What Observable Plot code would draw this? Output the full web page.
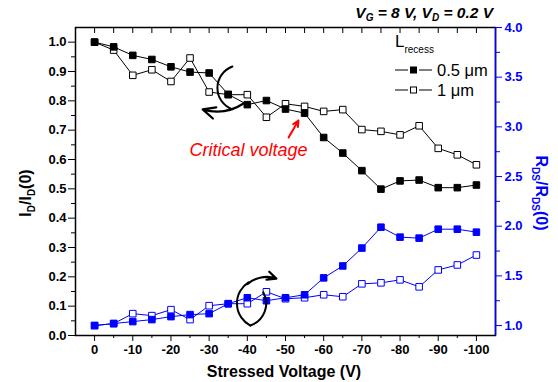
<!DOCTYPE html>
<html><head><meta charset="utf-8">
<script src="https://cdn.jsdelivr.net/npm/d3@7"></script>
<script src="https://cdn.jsdelivr.net/npm/@observablehq/plot@0.6"></script>
<style>
body{margin:0;background:#fff;}
#chart{width:558px;height:382px;}
</style>
</head><body><div id="chart"></div>
<script>
// ---- data ----
const voltage = [0,-5,-10,-15,-20,-25,-30,-35,-40,-45,-50,-55,-60,-65,-70,-75,-80,-85,-90,-95,-100];
const id05  = [1.00,0.984,0.955,0.941,0.916,0.898,0.895,0.822,0.787,0.801,0.772,0.758,0.675,0.622,0.562,0.499,0.527,0.530,0.504,0.504,0.513];
const id1   = [1.00,0.973,0.887,0.906,0.866,0.946,0.830,0.821,0.821,0.744,0.790,0.781,0.764,0.770,0.702,0.696,0.684,0.715,0.638,0.616,0.582];
const rds05 = [1.00,1.02,1.04,1.06,1.09,1.11,1.12,1.22,1.28,1.25,1.28,1.31,1.48,1.60,1.78,1.99,1.89,1.88,1.97,1.97,1.94];
const rds1  = [1.00,1.02,1.12,1.10,1.16,1.06,1.20,1.22,1.22,1.34,1.27,1.28,1.31,1.29,1.42,1.43,1.46,1.39,1.56,1.61,1.71];

const xDomain = [5,-105];
const xMajor = [0,-10,-20,-30,-40,-50,-60,-70,-80,-90,-100];
const xMinor = [-5,-15,-25,-35,-45,-55,-65,-75,-85,-95];
const yLeftDomain = [0,1.05];
const yLeftMajor = [0,0.1,0.2,0.3,0.4,0.5,0.6,0.7,0.8,0.9,1.0];
const yLeftMinor = [0.05,0.15,0.25,0.35,0.45,0.55,0.65,0.75,0.85,0.95];
const yRightDomain = [0.9,4.0];
const yRightMajor = [1.0,1.5,2.0,2.5,3.0,3.5,4.0];
const yRightMinor = [1.25,1.75,2.25,2.75,3.25,3.75];

const seriesLabels = ["0.5 \u03bcm","1 \u03bcm"];

// annotations (data coordinates: stressed voltage, left-axis ratio)
const blackArc   = [{x1:-36.1,y1:0.917,x2:-36.1,y2:0.771}];
const blackArrow = [{x1:-39.0,y1:0.791,x2:-28.3,y2:0.771}];
const blueArc1   = [{x1:-40.3,y1:0.181,x2:-40.8,y2:0.034}];
const blueArc2   = [{x1:-40.8,y1:0.034,x2:-44.2,y2:0.147}];
const blueArrow  = [{x1:-40.0,y1:0.175,x2:-47.6,y2:0.194}];
const redArrow   = [{x1:-50.8,y1:0.675,x2:-53.4,y2:0.733}];
const critLabel  = [{x:-40.3,y:0.631,text:"Critical voltage"}];

const BLUE = "#0000ff";
const FONT = "'Liberation Sans', Arial, sans-serif";

const toLeft = r => (r - yRightDomain[0])/(yRightDomain[1]-yRightDomain[0])*(yLeftDomain[1]-yLeftDomain[0]) + yLeftDomain[0];
const toRight = v => (v - yLeftDomain[0])/(yLeftDomain[1]-yLeftDomain[0])*(yRightDomain[1]-yRightDomain[0]) + yRightDomain[0];

const idData = voltage.flatMap((v,i)=>[
  {x:v, y:id05[i], s:seriesLabels[0]},
  {x:v, y:id1[i],  s:seriesLabels[1]}
]);
const rdsData = voltage.flatMap((v,i)=>[
  {x:v, y:toLeft(rds05[i]), s:seriesLabels[0]},
  {x:v, y:toLeft(rds1[i]),  s:seriesLabels[1]}
]);

const chart = Plot.plot({
  width:558, height:382,
  marginLeft:75, marginRight:63, marginTop:27, marginBottom:47,
  style:{fontFamily:FONT, fontSize:"13px", background:"#fff"},
  x:{domain:xDomain},
  y:{domain:yLeftDomain},
  marks:[
    Plot.axisX({ticks:xMajor, tickSize:6, tickPadding:3, tickFormat:d=>String(d), fontWeight:"bold", fontSize:13, label:null}),
    Plot.axisX({ticks:xMinor, tickSize:3, tickFormat:()=>"", label:null}),
    Plot.axisX({anchor:"top", ticks:[...xMajor,...xMinor], tickSize:-5, tickFormat:()=>"", label:null}),
    Plot.axisY({ticks:yLeftMajor, tickSize:7, tickPadding:2, tickFormat:d3.format(".1f"), fontWeight:"bold", fontSize:13, label:null}),
    Plot.axisY({ticks:yLeftMinor, tickSize:4, tickFormat:()=>"", label:null}),
    Plot.axisY({anchor:"right", ticks:yRightMajor.map(toLeft), tickSize:6, tickPadding:3,
      tickFormat:d=>toRight(d).toFixed(1), fontWeight:"bold", fontSize:13, color:BLUE, stroke:BLUE, fill:BLUE, label:null}),
    Plot.axisY({anchor:"right", ticks:yRightMinor.map(toLeft), tickSize:4, tickFormat:()=>"", color:BLUE, stroke:BLUE, label:null}),
    Plot.frame({stroke:"black", strokeWidth:1.5}),
    Plot.ruleX([xDomain[1]], {stroke:BLUE, strokeWidth:1.5}),
    Plot.line(idData, {x:"x", y:"y", z:"s", stroke:"black", strokeWidth:1}),
    Plot.line(rdsData, {x:"x", y:"y", z:"s", stroke:BLUE, strokeWidth:1}),
    Plot.dot(idData.filter(d=>d.s===seriesLabels[1]), {x:"x", y:"y", symbol:"square", r:3.7, fill:"white", stroke:"black", strokeWidth:1}),
    Plot.dot(idData.filter(d=>d.s===seriesLabels[0]), {x:"x", y:"y", symbol:"square", r:3.7, fill:"black", stroke:"black", strokeWidth:1}),
    Plot.dot(rdsData.filter(d=>d.s===seriesLabels[1]), {x:"x", y:"y", symbol:"square", r:3.7, fill:"white", stroke:BLUE, strokeWidth:1}),
    Plot.dot(rdsData.filter(d=>d.s===seriesLabels[0]), {x:"x", y:"y", symbol:"square", r:3.7, fill:BLUE, stroke:BLUE, strokeWidth:1}),
    Plot.arrow(blackArc, {x1:"x1",y1:"y1",x2:"x2",y2:"y2", bend:-70, headLength:0, stroke:"black", strokeWidth:2}),
    Plot.arrow(blackArrow, {x1:"x1",y1:"y1",x2:"x2",y2:"y2", bend:25, headLength:10, headAngle:50, stroke:"black", strokeWidth:2.2}),
    Plot.arrow(blueArc1, {x1:"x1",y1:"y1",x2:"x2",y2:"y2", bend:-60, headLength:0, stroke:"black", strokeWidth:2}),
    Plot.arrow(blueArc2, {x1:"x1",y1:"y1",x2:"x2",y2:"y2", bend:-50, headLength:0, stroke:"black", strokeWidth:2}),
    Plot.arrow(blueArrow, {x1:"x1",y1:"y1",x2:"x2",y2:"y2", bend:30, headLength:10, headAngle:50, stroke:"black", strokeWidth:2.2}),
    Plot.arrow(redArrow, {x1:"x1",y1:"y1",x2:"x2",y2:"y2", headLength:8, headAngle:50, stroke:"red", strokeWidth:2}),
    Plot.text(critLabel, {x:"x", y:"y", text:"text", fill:"red", fontSize:18, fontStyle:"italic", textAnchor:"middle"})
  ]
});
document.getElementById("chart").appendChild(chart);

// ---- titles & legend with subscripts ----
const svg = d3.select(chart);
function addParts(t, parts, size, subSize){
  parts.forEach(([s,isSub,shift])=>{
    t.append("tspan").attr("font-size", isSub?subSize:size).attr("dy", shift||0).text(s);
  });
}
const topNote = svg.append("text").attr("x",493).attr("y",18).attr("text-anchor","end")
  .attr("font-family",FONT).attr("font-weight","bold").attr("font-style","italic").attr("fill","black");
addParts(topNote, [["V",0],["G",1,3],[" = 8 V, V",0,-3],["D",1,3],[" = 0.2 V",0,-3]], 15.5, 10);

const leftTitle = svg.append("text").attr("transform","translate(31,193) rotate(-90)").attr("text-anchor","middle")
  .attr("font-family",FONT).attr("font-weight","bold").attr("fill","black");
addParts(leftTitle, [["I",0],["D",1,4],["/I",0,-4],["D",1,4],["(0)",0,-4]], 16, 10);

const rightTitle = svg.append("text").attr("transform","translate(536,193) rotate(90)").attr("text-anchor","middle")
  .attr("font-family",FONT).attr("font-weight","bold").attr("fill",BLUE);
addParts(rightTitle, [["R",0],["DS",1,4],["/R",0,-4],["DS",1,4],["(0)",0,-4]], 16, 10);

svg.append("text").attr("x",284).attr("y",377).attr("text-anchor","middle")
  .attr("font-family",FONT).attr("font-weight","bold").attr("font-size",16).attr("fill","black").text("Stressed Voltage (V)");

const lg = svg.append("g").attr("font-family",FONT).attr("text-anchor","start");
const lgt = lg.append("text").attr("x",395).attr("y",47).attr("fill","black").attr("text-anchor","start");
addParts(lgt, [["L",0],["recess",1,6]], 17, 10);
[[70,"black"],[90,"white"]].forEach(([y,fill],i)=>{
  lg.append("line").attr("x1",395).attr("x2",408).attr("y1",y).attr("y2",y).attr("stroke","black");
  lg.append("line").attr("x1",419).attr("x2",432).attr("y1",y).attr("y2",y).attr("stroke","black");
  lg.append("rect").attr("x",410.5).attr("y",y-3).attr("width",6).attr("height",6).attr("fill",fill).attr("stroke","black");
  lg.append("text").attr("x",437).attr("y",y+6).attr("font-size",16.5).attr("fill","black").attr("text-anchor","start").text(seriesLabels[i]);
});
</script>
</body></html>
